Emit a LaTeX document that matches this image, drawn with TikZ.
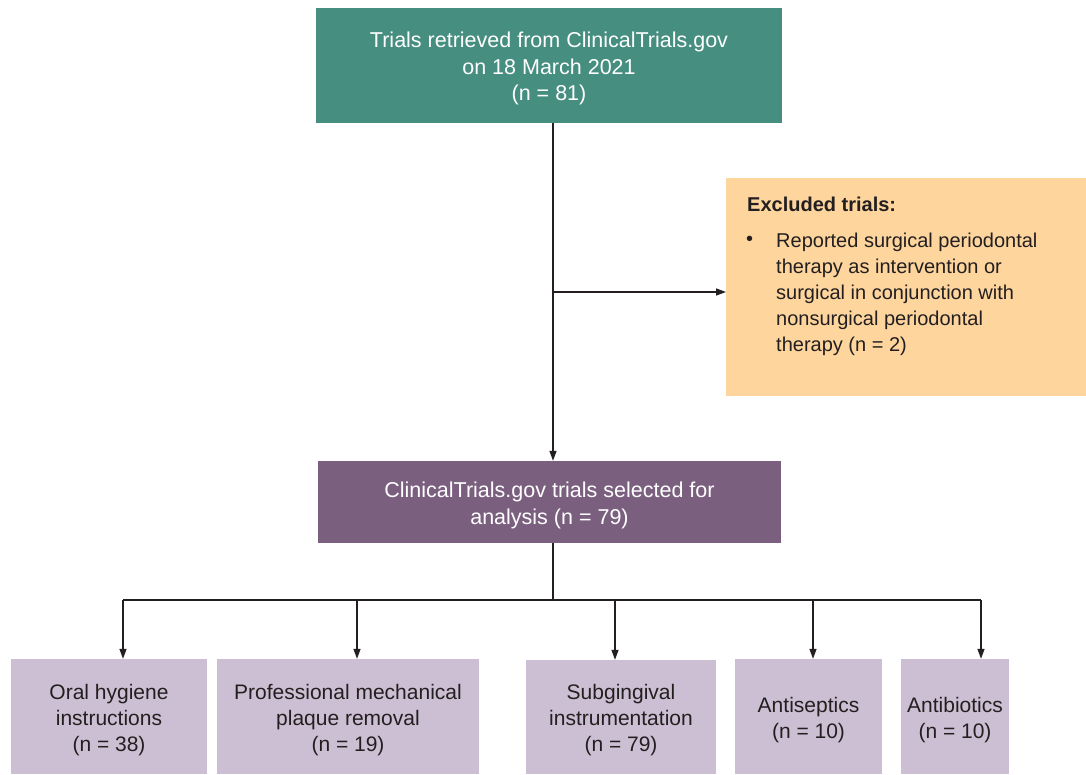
\documentclass[tikz,border=0pt]{standalone}
\usepackage{fontspec}
\setmainfont{Liberation Sans}
\usetikzlibrary{arrows.meta,calc}
\definecolor{tealbox}{HTML}{458E80}
\definecolor{orangebox}{HTML}{FDD59D}
\definecolor{purplebox}{HTML}{7B5F7F}
\definecolor{lavbox}{HTML}{CDBFD3}
\definecolor{ink}{HTML}{231F20}
\newcommand{\boxlines}[1]{\raisebox{0pt}[\dimexpr\height+7pt\relax][\depth]{\begin{tabular}{@{}c@{}}#1\end{tabular}}}
\tikzset{
  x=1pt,y=1pt,
  box/.style={rectangle, inner sep=0pt, font=\fontsize{21}{26}\selectfont},
  darkbox/.style={box, text=white, font=\fontsize{21.5}{26.5}\selectfont},
  lightbox/.style={box, text=ink, fill=lavbox},
  conn/.style={draw=ink, line width=1.3pt},
  arr/.style={conn, -{Triangle[length=10pt,width=7pt]}},
}
\begin{document}
\begin{tikzpicture}
\useasboundingbox (0,0) rectangle (1086,-774);
% top box
\node[darkbox, fill=tealbox, minimum width=466, minimum height=115] (top) at (549,-65.5)
  {\boxlines{Trials retrieved from ClinicalTrials.gov\\on 18 March 2021\\(n = 81)}};
% excluded box
\node[box, fill=orangebox, text=ink, anchor=north west, minimum width=360, minimum height=218, font=\fontsize{20}{26}\selectfont] (excl) at (726,-178)
  {\begin{minipage}[c][218pt][t]{360pt}\vspace*{18.5pt}%
   \hspace*{21pt}\textbf{Excluded trials:}\\[10pt]
   \hspace*{20pt}\makebox[30pt][l]{\raisebox{1.5pt}{•}}\parbox[t]{300pt}{Reported surgical periodontal\\therapy as intervention or\\surgical in conjunction with\\nonsurgical periodontal\\therapy (n = 2)}%
   \end{minipage}};
% middle box
\node[darkbox, fill=purplebox, minimum width=463, minimum height=82] (mid) at (549.5,-502)
  {\boxlines{ClinicalTrials.gov trials selected for\\analysis (n = 79)}};
% bottom boxes
\node[lightbox, minimum width=196, minimum height=115] (b1) at (109,-716.5) {\boxlines{Oral hygiene\\instructions\\(n = 38)}};
\node[lightbox, minimum width=262, minimum height=115] (b2) at (348,-716.5) {\boxlines{Professional mechanical\\plaque removal\\(n = 19)}};
\node[lightbox, minimum width=190, minimum height=114] (b3) at (621,-717) {\boxlines{Subgingival\\instrumentation\\(n = 79)}};
\node[lightbox, minimum width=147, minimum height=115] (b4) at (808.5,-716.5) {\boxlines{Antiseptics\\(n = 10)}};
\node[lightbox, minimum width=108, minimum height=115] (b5) at (955,-716.5) {\boxlines{Antibiotics\\(n = 10)}};
% connectors
\coordinate (s) at (553,0);
\coordinate (j1) at (553,-292);
\coordinate (j2) at (553,-600);
\coordinate (a1) at (123,-600);
\coordinate (a2) at (357,-600);
\coordinate (a3) at (615,-600);
\coordinate (a4) at (813,-600);
\coordinate (a5) at (981,-600);
\draw[arr] (top.south -| s) -- (mid.north -| s);
\draw[arr] (j1) -- (j1 -| excl.west);
\draw[conn] (mid.south -| s) -- (j2);
\draw[conn, line width=1.1pt] (a1) -- (a5);
\draw[arr] (a1) -- (a1 |- b1.north);
\draw[arr] (a2) -- (a2 |- b2.north);
\draw[arr] (a3) -- (a3 |- b3.north);
\draw[arr] (a4) -- (a4 |- b4.north);
\draw[arr] (a5) -- (a5 |- b5.north);
\end{tikzpicture}
\end{document}
